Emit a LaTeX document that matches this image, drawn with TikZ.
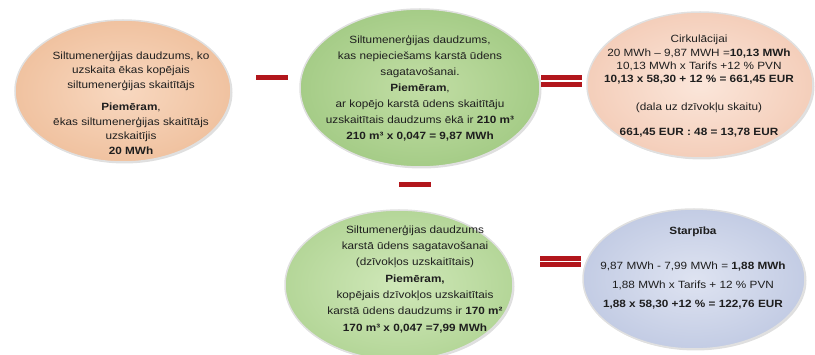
\documentclass[tikz,border=0pt]{standalone}
\usepackage{fontspec}
\setmainfont[FakeStretch=1.12]{Liberation Sans}
\usetikzlibrary{shapes.geometric,shadows}
\definecolor{peachIn}{RGB}{248,216,192}
\definecolor{peachOut}{RGB}{240,194,160}
\definecolor{peachIn2}{RGB}{251,230,218}
\definecolor{peachOut2}{RGB}{244,206,186}
\definecolor{greenIn}{RGB}{194,222,165}
\definecolor{greenOut}{RGB}{165,204,135}
\definecolor{greenIn2}{RGB}{208,232,185}
\definecolor{greenOut2}{RGB}{180,214,152}
\definecolor{blueIn}{RGB}{222,227,241}
\definecolor{blueOut}{RGB}{195,204,228}
\definecolor{opred}{RGB}{178,22,28}
\definecolor{txtcol}{RGB}{30,30,30}
\begin{document}
\begin{tikzpicture}[x=1pt,y=-1pt,
  bubble/.style={ellipse,draw=white!88!black,line width=1.5pt,inner sep=0pt,
    drop shadow={opacity=0.25,shadow xshift=1.5pt,shadow yshift=-1.5pt}},
  opbar/.style={rectangle,fill=opred,inner sep=0pt,minimum height=5pt},
  txt/.style={align=center,inner sep=0pt,text=txtcol}]
\useasboundingbox (0,0) rectangle (815,355);

\node[bubble,shade,inner color=peachIn,outer color=peachOut,minimum width=216pt,minimum height=142pt] (e1) at (123,91) {};
\node[bubble,shade,inner color=greenIn,outer color=greenOut,minimum width=240pt,minimum height=158pt] (e2) at (420,88) {};
\node[bubble,shade,inner color=peachIn2,outer color=peachOut2,minimum width=226pt,minimum height=146pt] (e3) at (700,85) {};
\node[bubble,shade,inner color=greenIn2,outer color=greenOut2,minimum width=228pt,minimum height=150pt] (e4) at (399,285) {};
\node[bubble,shade,inner color=blueIn,outer color=blueOut,minimum width=222pt,minimum height=140pt] (e5) at (694,279) {};

\node[opbar,minimum width=32pt] (m1) at (272,78) {};
\node[opbar,minimum width=32pt] (m2) at (415,185) {};
\node[opbar,minimum width=41pt] (q1a) at (561,77.5) {};
\node[opbar,minimum width=41pt] (q1b) at (561,84.5) {};
\node[opbar,minimum width=41pt] (q2a) at (560,258.5) {};
\node[opbar,minimum width=41pt] (q2b) at (560,265) {};

\node[txt,font=\fontsize{10.5}{14.5}\selectfont] (t1) at (131,103) {Siltumenerģijas daudzums, ko\\ uzskaita ēkas kopējais\\ siltumenerģijas skaitītājs\\[8pt] \textbf{Piemēram},\\ ēkas siltumenerģijas skaitītājs\\ uzskaitījis\\ \textbf{20 MWh}};

\node[txt,font=\fontsize{10.5}{16}\selectfont] (t2) at (420,88) {Siltumenerģijas daudzums,\\ kas nepieciešams karstā ūdens\\ sagatavošanai.\\ \textbf{Piemēram},\\ ar kopējo karstā ūdens skaitītāju\\ uzskaitītais daudzums ēkā ir \textbf{210 m³}\\ \textbf{210 m³ x 0,047 = 9,87 MWh}};

\node[txt,font=\fontsize{10.5}{13.3}\selectfont] (t3) at (699,86) {Cirkulācijai\\ 20 MWh – 9,87 MWH =\textbf{10,13 MWh}\\ 10,13 MWh x Tarifs +12 \% PVN\\ \textbf{10,13 x 58,30 + 12 \% = 661,45 EUR}\\[15pt] (dala uz dzīvokļu skaitu)\\[11pt] \textbf{661,45 EUR : 48 = 13,78 EUR}};

\node[txt,font=\fontsize{10.5}{16.3}\selectfont] (t4) at (415,279) {Siltumenerģijas daudzums\\ karstā ūdens sagatavošanai\\ (dzīvokļos uzskaitītais)\\ \textbf{Piemēram,}\\ kopējais dzīvokļos uzskaitītais\\ karstā ūdens daudzums ir \textbf{170 m²}\\ \textbf{170 m³ x 0,047 =7,99 MWh}};

\node[txt,font=\fontsize{10.5}{19}\selectfont] (t5) at (693,268.5) {\textbf{Starpība}\\[16pt] 9,87 MWh - 7,99 MWh = \textbf{1,88 MWh}\\ 1,88 MWh x Tarifs + 12 \% PVN\\ \textbf{1,88 x 58,30 +12 \% = 122,76 EUR}};
\end{tikzpicture}
\end{document}
